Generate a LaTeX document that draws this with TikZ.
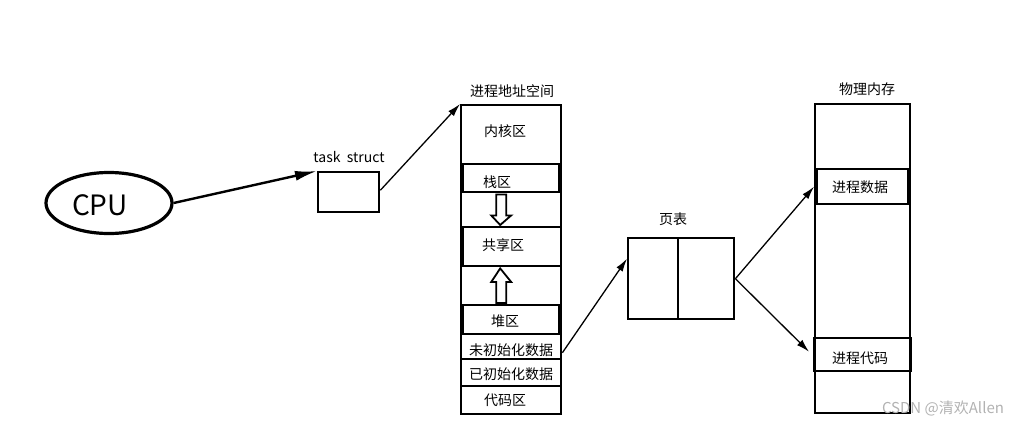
\documentclass[tikz,border=0pt]{standalone}
\usepackage{fontspec}
\setmainfont{Noto Sans CJK SC}
\usetikzlibrary{arrows.meta,calc,shapes.geometric}
\tikzset{
  box/.style={draw, line width=2.4pt, inner sep=0pt, anchor=north west},
  lbl/.style={inner sep=0pt, font=\fontsize{14}{16}\selectfont},
  conn/.style={line width=1.3pt, -{Latex[length=13pt,width=7.5pt]}},
  hollow/.style={draw, line width=1.8pt, fill=white, line join=miter},
}
\begin{document}
\begin{tikzpicture}[x=1pt,y=-1pt]
\useasboundingbox (0,0) rectangle (1024,426);
% CPU
\node[draw, ellipse, line width=3.2pt, minimum width=126pt, minimum height=61pt, inner sep=0pt] (cpu) at (109,203) {};
\node[inner sep=0pt, font=\fontsize{28}{30}\selectfont] (cputxt) at (100,205) {CPU};
% task struct
\node[box, minimum width=61pt, minimum height=40pt] (ts) at (317,171) {};
\node[lbl] (tslbl) at (349,157) {task\ \ struct};
% process address space
\node[lbl] (aslbl) at (512,91) {进程地址空间};
\node[box, minimum width=100pt, minimum height=309pt] (as) at (460,104) {};
\node[box, minimum width=100pt, minimum height=59pt] (kern) at (460,104) {};
\node[lbl] (kernT) at (505,131) {内核区};
\node[box, minimum width=96pt, minimum height=28pt] (stack) at (462,163) {};
\node[lbl] (stackT) at (497,182) {栈区};
\draw[line width=3.5pt] ($(stack.north west)+(0.5,0)$) -- ($(stack.south west)+(0.5,0)$);
\node[box, minimum width=98pt, minimum height=39pt] (shared) at (462,226) {};
\node[lbl] (sharedT) at (503,245) {共享区};
\node[box, minimum width=96pt, minimum height=29pt] (heap) at (462,304) {};
\node[lbl] (heapT) at (505,321) {堆区};
\node[box, minimum width=100pt, minimum height=25pt] (bss) at (460,333) {};
\node[lbl] (bssT) at (511,350) {未初始化数据};
\node[box, minimum width=100pt, minimum height=27pt] (data) at (460,358) {};
\node[lbl] (dataT) at (511,374) {已初始化数据};
\node[box, minimum width=100pt, minimum height=28pt] (code) at (460,385) {};
\node[lbl] (codeT) at (505,400) {代码区};
% hollow arrows
\draw[hollow] ($(stack.south)+(-15,1)$) -- ++(0,21) -- ++(-5,0) -- ($(shared.north)+(-12,-1)$)
  -- ($(stack.south)+(-0,22)$) -- ++(-5,0) -- ($(stack.south)+(-5,1)$) -- cycle;
\draw[hollow] ($(heap.north)+(-15,-1)$) -- ++(0,-21) -- ++(-5,0) -- ($(shared.south)+(-12,1)$)
  -- ($(heap.north)+(0,-22)$) -- ++(-5,0) -- ($(heap.north)+(-5,-1)$) -- cycle;
% page table
\node[lbl] (ptlbl) at (673,219) {页表};
\node[box, minimum width=106pt, minimum height=81pt] (pt) at (627,237) {};
\draw[line width=2.4pt] (pt.north) ++(-3,0) coordinate (ptd) -- (ptd |- pt.south);
% physical memory
\node[lbl] (pmlbl) at (867,89) {物理内存};
\node[box, minimum width=95pt, minimum height=309pt] (pm) at (814,103) {};
\node[box, minimum width=91pt, minimum height=35pt] (pdata) at (816,168) {};
\node[lbl] (pdataT) at (860,187) {进程数据};
\node[box, minimum width=97pt, minimum height=33pt] (pcode) at (813,337) {};
\node[lbl] (pcodeT) at (860,358) {进程代码};
% connectors
\draw[line width=2.4pt, -{Latex[length=22pt,width=10pt]}] (cpu.east) -- (ts.north west);
\draw[conn] ($(ts.east)+(0,-2)$) -- (as.north west);
\draw[conn] ($(bss.east)+(0,6)$) -- ($(pt.west)+(0,-20)$);
\draw[conn] (pt.east) -- ($(pdata.west)+(-2,0)$);
\draw[conn] (pt.east) -- ($(pcode.west)+(-4,-3)$);
% watermark
\node[inner sep=0pt, text=black!30, font=\fontsize{15}{17}\selectfont] (wm) at (943,408) {CSDN @清欢Allen};
\end{tikzpicture}
\end{document}
